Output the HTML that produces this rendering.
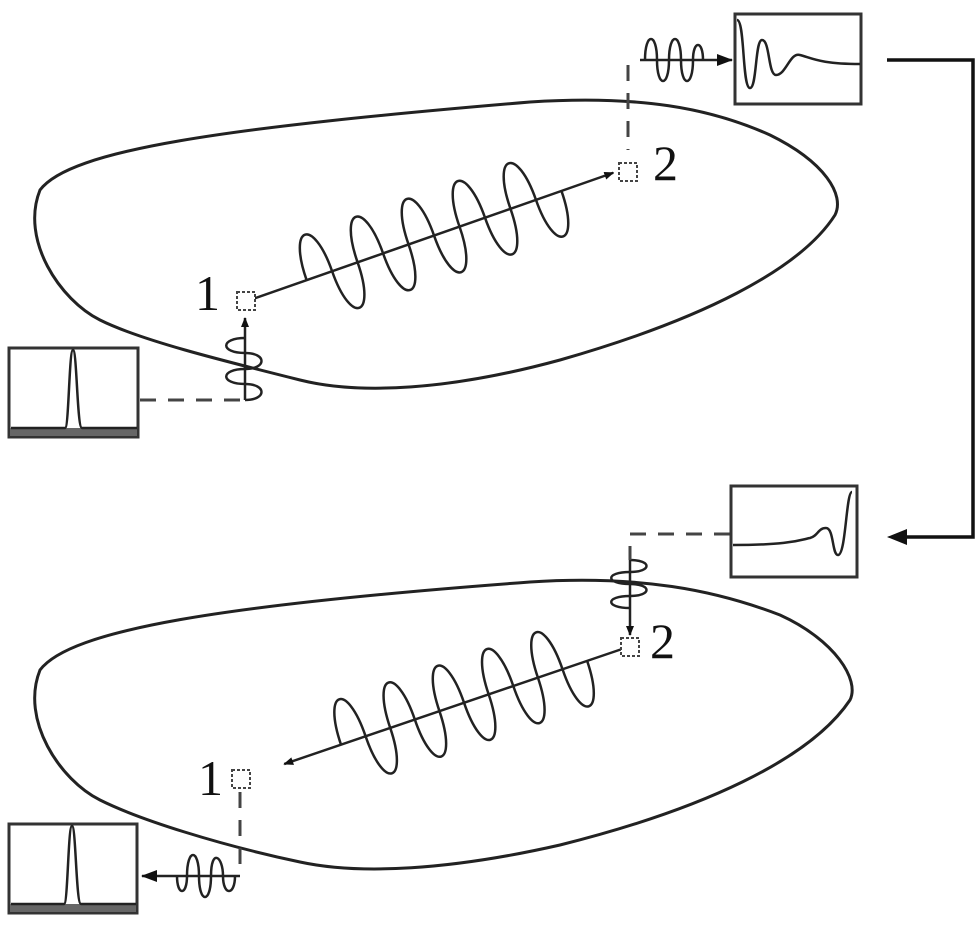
<!DOCTYPE html>
<html><head><meta charset="utf-8"><style>
html,body{margin:0;padding:0;background:#fff;width:976px;height:938px;overflow:hidden}
svg text{font-family:"Liberation Serif",serif;font-size:50px;fill:#111}
</style></head><body>
<svg width="976" height="938" viewBox="0 0 976 938" xmlns="http://www.w3.org/2000/svg">
<defs>
<marker id="ah" markerWidth="10" markerHeight="8" refX="9" refY="4" orient="auto" markerUnits="userSpaceOnUse">
<path d="M0,0 L10,4 L0,8 Z" fill="#111"/></marker>
<marker id="ahb" markerWidth="16" markerHeight="12" refX="15" refY="6" orient="auto" markerUnits="userSpaceOnUse">
<path d="M0,0 L16,6 L0,12 Z" fill="#111"/></marker>
</defs>
<g fill="none" stroke="#222" stroke-width="3">
<!-- top blob -->
<path d="M40,190 C70,150 220,128 530,102 C640,95 710,108 770,135 C825,162 845,195 835,215 C800,270 700,320 560,360 C450,390 360,395 300,380 C220,360 140,340 100,320 C60,300 20,240 40,190 Z"/>
<!-- bottom blob -->
<path d="M40,670 C70,630 220,605 530,582 C640,575 715,590 780,615 C835,640 860,680 850,700 C810,760 700,810 560,845 C450,870 360,875 300,862 C220,845 140,820 100,800 C60,780 20,720 40,670 Z"/>
</g>
<g fill="none" stroke="#222" stroke-width="2.5">
<!-- top main wave -->
<g transform="translate(250,300) rotate(-19.3)">
<line x1="0" y1="0" x2="385" y2="0" marker-end="url(#ah)"/>
<path d="M60,0 c0,-58 27,-58 27,0 s27,58 27,0 c0,-58 27,-58 27,0 s27,58 27,0 c0,-58 27,-58 27,0 s27,58 27,0 c0,-58 27,-58 27,0 s27,58 27,0 c0,-58 27,-58 27,0 s27,58 27,0"/>
</g>
<!-- bottom main wave -->
<g transform="translate(625,648) rotate(161.2)">
<line x1="0" y1="0" x2="360" y2="0" marker-end="url(#ah)"/>
<path d="M40,0 c0,-58 26,-58 26,0 s26,58 26,0 c0,-58 26,-58 26,0 s26,58 26,0 c0,-58 26,-58 26,0 s26,58 26,0 c0,-58 26,-58 26,0 s26,58 26,0 c0,-58 26,-58 26,0 s26,58 26,0"/>
</g>
<!-- top-left coil -->
<line x1="245" y1="400" x2="245" y2="318" marker-end="url(#ah)"/>
<path d="M245,400 c22,0 22,-16 0,-16 c-25,0 -25,-15 0,-15 c22,0 22,-16 0,-16 c-25,0 -25,-15 0,-15"/>
<!-- bottom-right coil -->
<line x1="630" y1="560" x2="630" y2="635" marker-end="url(#ah)"/>
<path d="M630,560 c22,0 22,12 0,12 c-25,0 -25,12 0,12 c22,0 22,12 0,12 c-25,0 -25,12 0,12"/>
<!-- top-right small wave -->
<line x1="640" y1="60" x2="732" y2="60" marker-end="url(#ahb)"/>
<path d="M645,60 c0,-28 12,-28 12,0 s12,28 12,0 c0,-28 12,-28 12,0 s12,28 12,0 c0,-20 10,-20 10,0"/>
<!-- bottom-left small wave -->
<line x1="240" y1="876" x2="142" y2="876" marker-end="url(#ahb)"/>
<path d="M235,876 c0,20 -12,20 -12,0 s-12,-28 -12,0 c0,28 -12,28 -12,0 s-12,-28 -12,0 c0,20 -10,20 -10,0"/>
</g>
<!-- dashed lines -->
<g fill="none" stroke="#444" stroke-width="3" stroke-dasharray="16,12">
<path d="M140,400 L245,400"/>
<path d="M628,65 L628,150"/>
<path d="M730,534 L630,534 L630,560"/>
<path d="M240,792 L240,870"/>
</g>
<!-- squares -->
<g fill="#fff" stroke="#444" stroke-width="2" stroke-dasharray="3,2">
<rect x="237" y="292" width="18" height="18"/>
<rect x="619" y="163" width="18" height="18"/>
<rect x="621" y="638" width="18" height="18"/>
<rect x="232" y="770" width="18" height="18"/>
</g>
<text x="195" y="310">1</text>
<text x="653" y="180">2</text>
<text x="650" y="658">2</text>
<text x="198" y="795">1</text>
<!-- boxes -->
<g stroke="#333" stroke-width="3" fill="#fff">
<rect x="9" y="348" width="129" height="89"/>
<rect x="735" y="14" width="126" height="90"/>
<rect x="731" y="486" width="126" height="91"/>
<rect x="9" y="824" width="128" height="89"/>
</g>
<rect x="10" y="428" width="127" height="8" fill="#666"/>
<rect x="10" y="904" width="126" height="8" fill="#666"/>
<g fill="none" stroke="#222" stroke-width="2.5">
<path d="M11,428 L65,428 C69,428 69,350 73,350 C77,350 77,428 82,428 L137,428"/>
<path d="M11,904 L64,904 C68,904 68,826 72,826 C76,826 76,904 81,904 L136,904"/>
<path d="M737,20 C745,20 742,88 750,88 C757,88 755,40 762,40 C770,40 768,75 776,75 C786,75 790,52 800,55 C812,58 820,64 860,64"/>
<path d="M733,545 C790,545 800,540 810,538 C818,536 818,528 826,528 C834,528 832,555 838,555 C846,555 846,492 852,492"/>
</g>
<!-- feedback connector -->
<path d="M887,60 L973,60 L973,537 L892,537" fill="none" stroke="#111" stroke-width="3.5"/>
<path d="M887,537 L907,529 L907,545 Z" fill="#111"/>
</svg>
</body></html>
